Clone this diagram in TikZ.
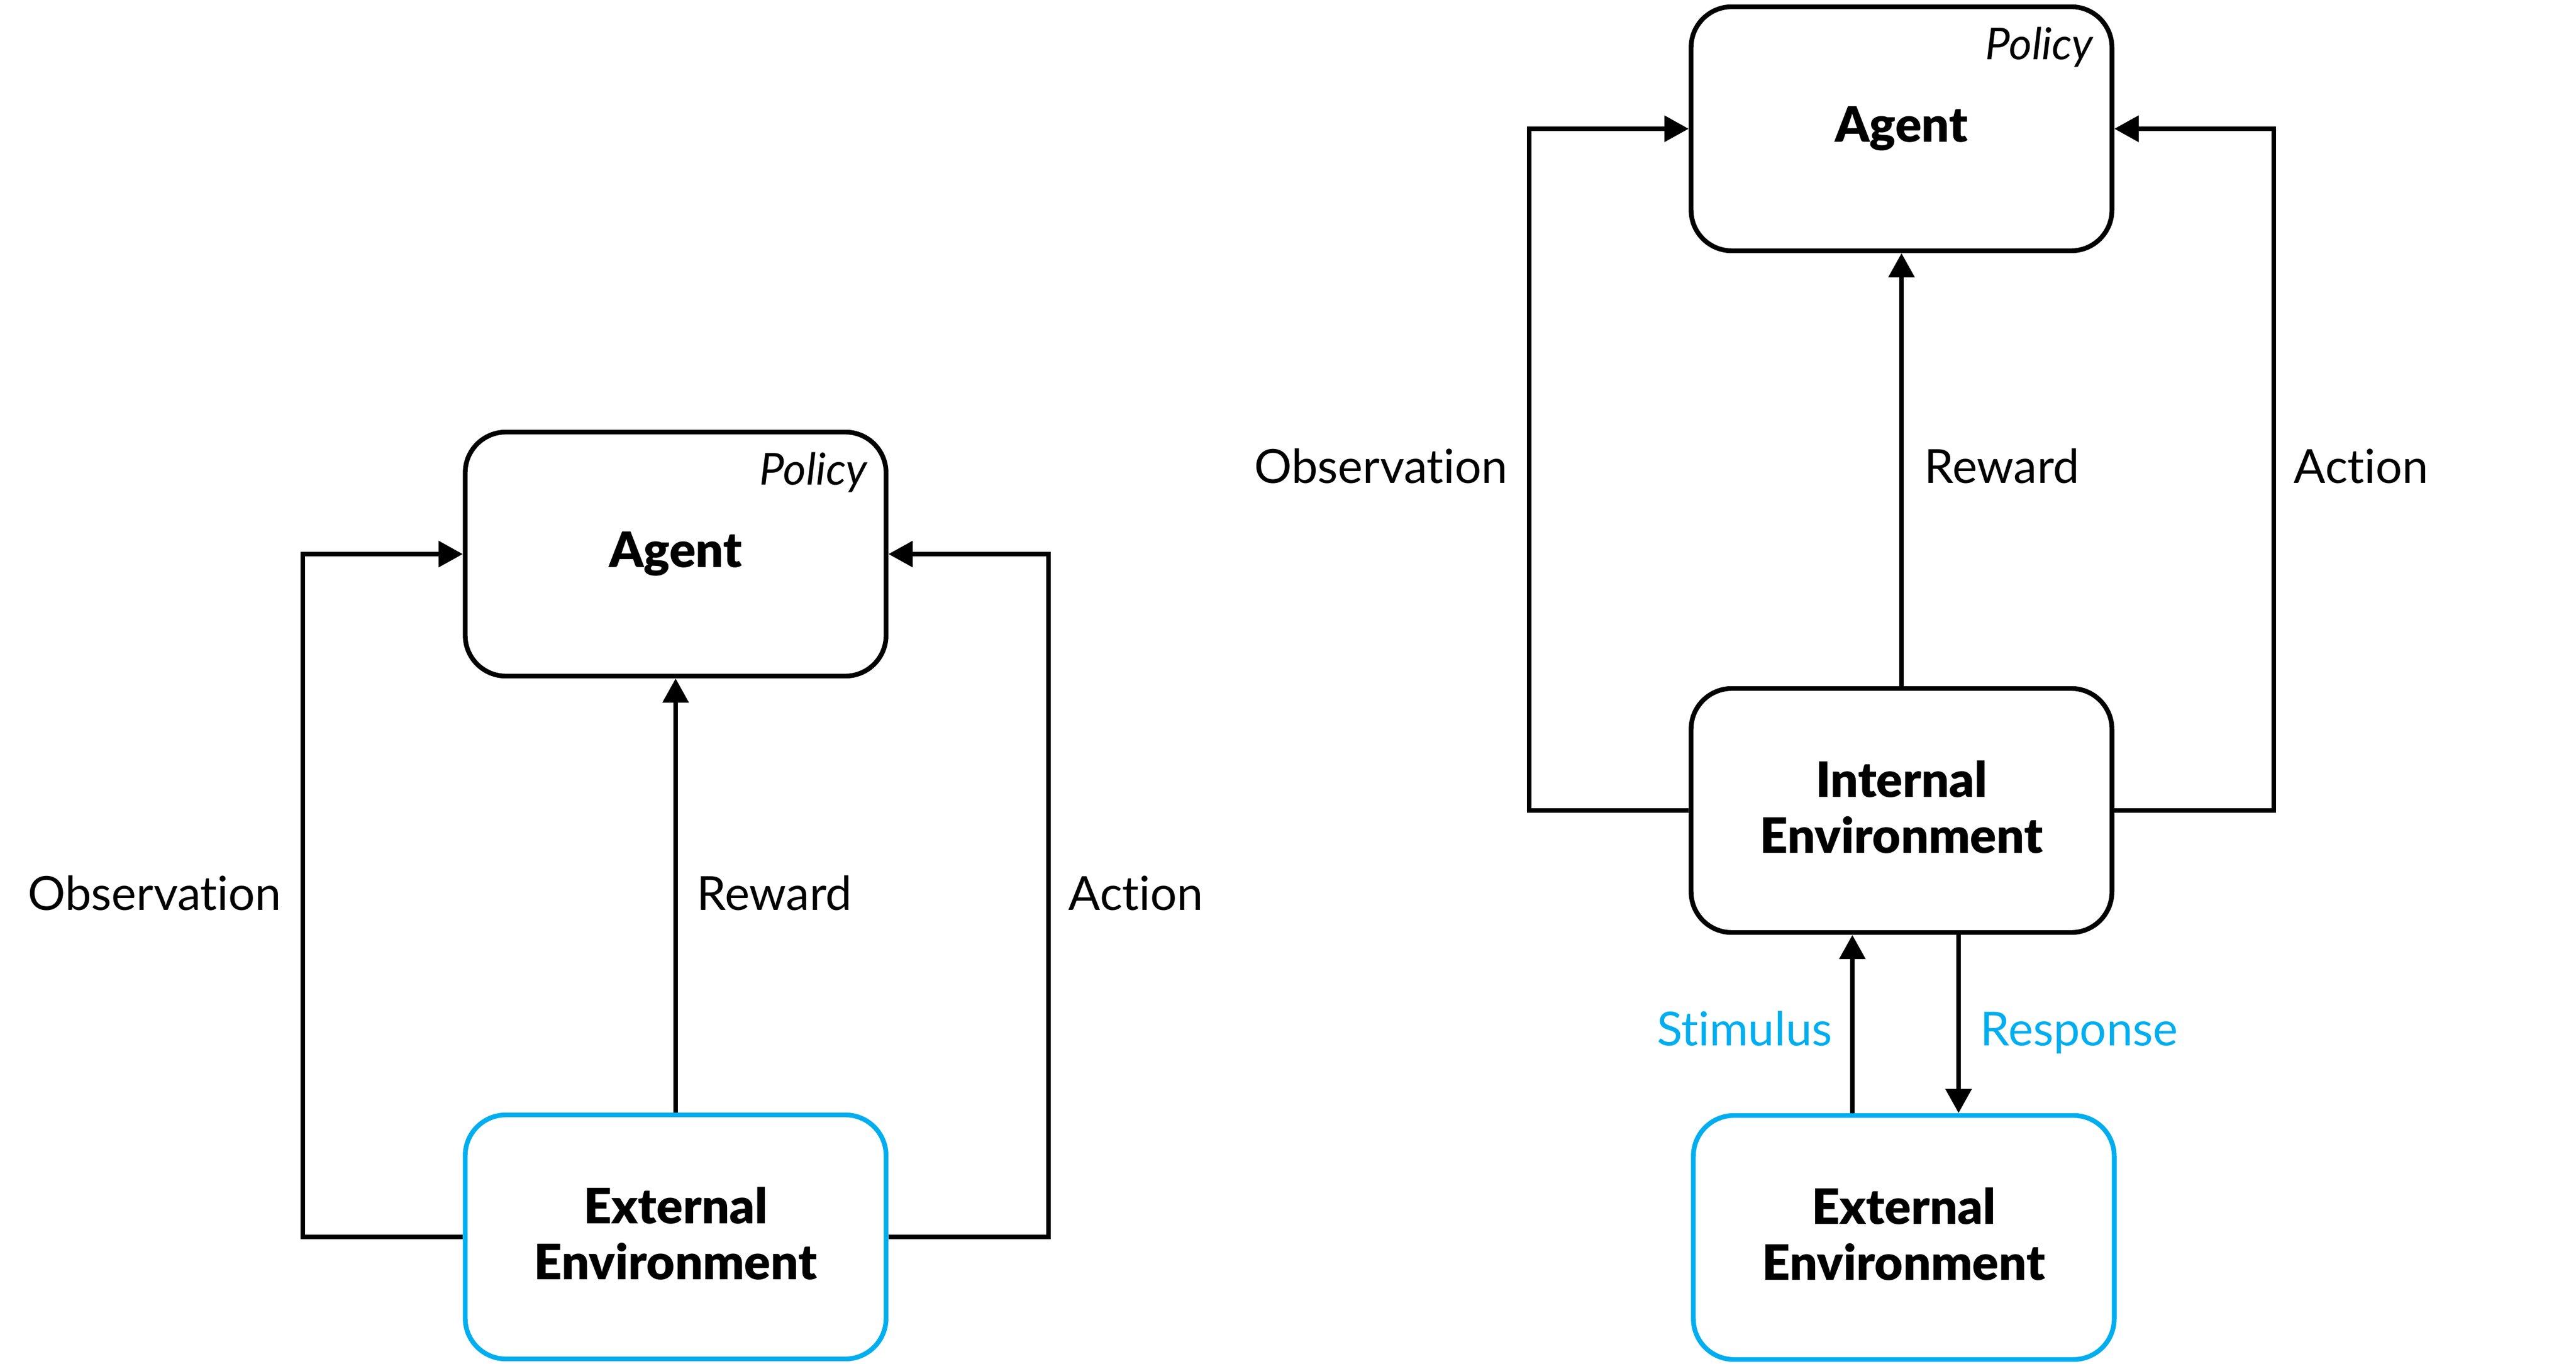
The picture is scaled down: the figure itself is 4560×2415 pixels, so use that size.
\documentclass[tikz,border=0pt]{standalone}
\usepackage{fontspec}
\setmainfont{Lato}[Ligatures={NoCommon}, BoldFont={Lato Black}]
\usetikzlibrary{arrows.meta}
\definecolor{envblue}{RGB}{0,174,239}
\begin{document}
\begin{tikzpicture}[x=0.25pt,y=-0.25pt,
  box/.style={draw=black, line width=2.1pt, rounded corners=18pt, minimum width=186.25pt, minimum height=108pt, inner sep=0pt, align=center, font=\fontsize{21.6}{24.75}\selectfont\bfseries},
  envbox/.style={box, execute at end node={\rule[-3pt]{0pt}{3pt}}},
  extbox/.style={envbox, draw=envblue},
  agentbox/.style={box, font=\fontsize{21.6}{24}\selectfont\bfseries},
  arr/.style={line width=2.1pt, -{Triangle[length=10.75pt,width=11.25pt]}},
  lbl/.style={font=\fontsize{20.8}{26}\selectfont, inner sep=0pt},
  bluelbl/.style={lbl, text=envblue},
  pol/.style={font=\fontsize{19.5}{22}\selectfont\itshape, inner sep=0pt}]
\fill[white] (0,0) rectangle (4560,2415);
\useasboundingbox (0,0) rectangle (4560,2415);

% ---------- left diagram ----------
\node[agentbox] (agentL) at (1196,981) {Agent};
\node[extbox] (extL) at (1196,2190) {External\\Environment};
\node[pol, anchor=base east] (polL) at ([xshift=-9.25pt,yshift=-24.5pt]agentL.north east) {Policy};
\coordinate (loL) at (536,0);
\coordinate (roL) at (1856,0);
\draw[arr] (extL.west) -- (extL.west -| loL) -- (agentL.west -| loL) -- (agentL.west);
\draw[arr] (extL.east) -- (extL.east -| roL) -- (agentL.east -| roL) -- (agentL.east);
\draw[arr] (extL.north) -- (agentL.south);
\node[lbl, anchor=base east] (obsL) at (499,1611) {Observation};
\node[lbl, anchor=base west] (rewL) at (1233,1611) {Reward};
\node[lbl, anchor=base west] (actL) at (1891,1611) {Action};

% ---------- right diagram ----------
\node[agentbox] (agentR) at (3366,228) {Agent};
\node[envbox] (intR) at (3366,1435) {Internal\\Environment};
\node[extbox] (extR) at (3370,2191) {External\\Environment};
\node[pol, anchor=base east] (polR) at ([xshift=-9.25pt,yshift=-24.5pt]agentR.north east) {Policy};
\coordinate (loR) at (2707,0);
\coordinate (roR) at (4025,0);
\coordinate (sx) at (3279,0);
\coordinate (rx) at (3467,0);
\draw[arr] (intR.west) -- (intR.west -| loR) -- (agentR.west -| loR) -- (agentR.west);
\draw[arr] (intR.east) -- (intR.east -| roR) -- (agentR.east -| roR) -- (agentR.east);
\draw[arr] (intR.north) -- (agentR.south);
\draw[arr] (extR.north -| sx) -- (intR.south -| sx);
\draw[arr] (intR.south -| rx) -- (extR.north -| rx);
\node[lbl, anchor=base east] (obsR) at (2670,856) {Observation};
\node[lbl, anchor=base west] (rewR) at (3406,856) {Reward};
\node[lbl, anchor=base west] (actR) at (4060,856) {Action};
\node[bluelbl, anchor=base east] (stim) at (3244,1851) {Stimulus};
\node[bluelbl, anchor=base west] (resp) at (3505,1851) {Response};
\end{tikzpicture}
\end{document}
